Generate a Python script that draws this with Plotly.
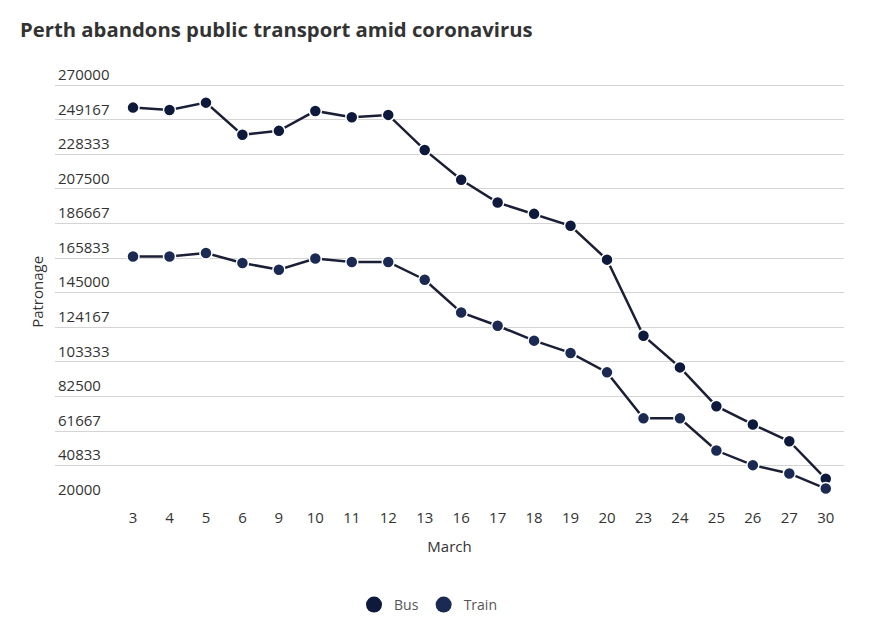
import plotly.graph_objects as go

days = ["3", "4", "5", "6", "9", "10", "11", "12", "13", "16",
        "17", "18", "19", "20", "23", "24", "25", "26", "27", "30"]
bus = [256500, 255100, 259500, 240100, 242500, 254500, 250700, 252100, 231000, 213000,
       199300, 192500, 185300, 164900, 119100, 100000, 76600, 65600, 55500, 32900]
train = [166800, 166800, 168900, 162900, 158800, 165600, 163500, 163500, 152800, 133100,
         125100, 116100, 108700, 97000, 69300, 69300, 49900, 41100, 36100, 27000]
ytick_vals = [20000, 40833, 61667, 82500, 103333, 124167, 145000, 165833,
              186667, 207500, 228333, 249167, 270000]
ytick_text = [str(v) for v in ytick_vals]

BUS_COLOR = "#0e1a3c"
TRAIN_COLOR = "#1b2a52"
LINE_COLOR = "#1a1f35"
FONT = "Open Sans"

W, H = 865, 622

fig = go.Figure()
for name, vals, col in [("Bus", bus, BUS_COLOR), ("Train", train, TRAIN_COLOR)]:
    fig.add_trace(go.Scatter(
        x=days, y=vals, name=name, mode="lines+markers", legendgroup=name,
        showlegend=False,
        line=dict(color=LINE_COLOR, width=2.5),
        marker=dict(color=col, size=12, line=dict(color="white", width=1.5)),
    ))
    fig.add_trace(go.Scatter(
        x=[None], y=[None], name=name, mode="markers", legendgroup=name,
        marker=dict(color=col, size=18), hoverinfo="skip",
    ))

fig.update_layout(
    width=W, height=H,
    margin=dict(l=47, r=29, t=43.8, b=128.5, autoexpand=False),
    paper_bgcolor="white", plot_bgcolor="white",
    font=dict(family=FONT, color="#333333", size=14),
    title=dict(text="<b>Perth abandons public transport amid coronavirus</b>",
               x=12 / W, xanchor="left", xref="container",
               y=1 - 22 / H, yanchor="middle", yref="container",
               font=dict(family=FONT, size=20.3, color="#333333")),
    showlegend=True,
    legend=dict(orientation="h", xref="container", yref="container",
                x=420 / W, xanchor="center", y=(H - 597) / H, yanchor="middle",
                font=dict(family=FONT, size=14, color="#555555"),
                itemsizing="trace"),
    xaxis=dict(type="category", range=[-2.14, 19.5], showgrid=False,
               showline=False, zeroline=False, ticks="", ticklabelstandoff=6,
               tickfont=dict(size=15, color="#333333"),
               title=dict(text="March", font=dict(size=15, color="#333333"), standoff=15)),
    yaxis=dict(range=[19500, 290000], tickvals=ytick_vals, ticktext=ytick_text,
               ticklabelposition="inside top", showgrid=True, gridcolor="#d4d4d4",
               gridwidth=1, zeroline=False, showline=False, ticks="",
               tickfont=dict(size=15, color="#333333")),
    annotations=[dict(text="Patronage", textangle=-90, xref="paper", yref="paper",
                      x=-0.0228, y=(493.5 - 284) / (493.5 - 43.8), xanchor="center",
                      yanchor="middle", showarrow=False,
                      font=dict(family=FONT, size=15, color="#333333"))],
)

fig.write_html("out.html")
